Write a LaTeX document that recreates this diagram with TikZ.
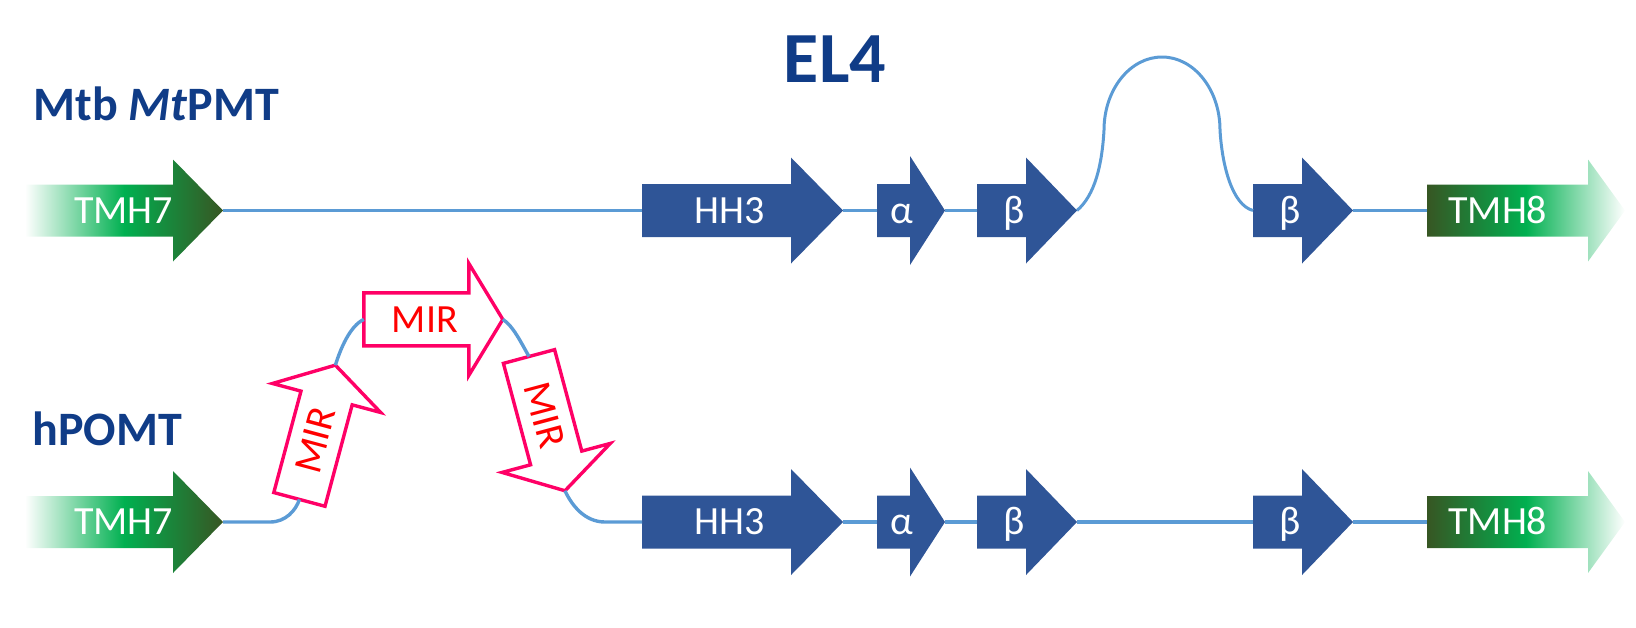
\documentclass[tikz,border=0pt]{standalone}
\usepackage{fontspec}
\setmainfont{Carlito}
\definecolor{titleblue}{RGB}{16,60,135}
\definecolor{arrowblue}{RGB}{47,85,151}
\definecolor{lineblue}{RGB}{91,155,213}
\definecolor{tdark}{RGB}{55,86,35}
\definecolor{tgreen}{RGB}{0,176,80}
\definecolor{mirpink}{RGB}{255,0,102}
\definecolor{mirred}{RGB}{255,0,0}
\newcommand{\txo}{0}
% #1 path style, #2 name, #3 tail position, #4 rotation, #5 body length,
% #6 head length, #7 body half width, #8 head half width, #9 text
\newcommand{\gene}[9]{%
  \begin{scope}[shift={#3}, rotate=#4, transform shape]
    \path[#1] (0,-#7) -- (#5,-#7) -- (#5,-#8) -- (#5+#6,0) -- (#5,#8) -- (#5,#7) -- (0,#7) -- cycle;
    \coordinate (#2-tail) at (0,0);
    \coordinate (#2-tip) at (#5+#6,0);
    \node[gtext] (#2) at (#5/2+#6/4+\txo,0) {#9};
  \end{scope}}
\begin{document}
\begin{tikzpicture}[x=0.5pt,y=-0.5pt,
  bluearrow/.style={fill=arrowblue},
  tmhin/.style={left color=white, right color=tdark, middle color=tgreen},
  tmhout/.style={left color=tdark, right color=white, middle color=tgreen},
  mirarrow/.style={draw=mirpink, fill=white, line width=1.7pt, line join=miter},
  gtext/.style={text=white, font=\fontsize{20}{24}\selectfont, inner sep=0pt, text height=12.9pt, text depth=0pt, anchor=center},
  conn/.style={draw=lineblue, line width=1.7pt},
  titletext/.style={text=titleblue, font=\bfseries\fontsize{36}{40}\selectfont, inner sep=0pt},
  rowlabel/.style={text=titleblue, font=\bfseries\fontsize{24}{28}\selectfont, inner sep=0pt}]
\useasboundingbox (0,0) rectangle (1636,627);

% titles
\node[titletext, anchor=base] (el4) at (835,82.3) {EL4};
\node[rowlabel, anchor=base west] (mtb) at (33,120) {Mtb \textit{Mt}PMT};
\node[rowlabel, anchor=base west] (hpomt) at (32,445) {hPOMT};

% top row
\renewcommand{\txo}{12}
\gene{tmhin}{tmh7t}{(25,210.5)}{0}{148}{50}{26}{51}{TMH7}
\renewcommand{\txo}{0}
\gene{bluearrow}{hh3t}{(642,210.5)}{0}{149}{52}{26.5}{53}{HH3}
\gene{bluearrow}{alphat}{(877,210.5)}{0}{33}{35}{26.5}{54.5}{α}
\gene{bluearrow}{betaat}{(977,210.5)}{0}{49}{51}{26.5}{53}{β}
\gene{bluearrow}{betabt}{(1253,210.5)}{0}{49}{51}{26.5}{53}{β}
\renewcommand{\txo}{-19}
\gene{tmhout}{tmh8t}{(1427,210.5)}{0}{161}{37}{26}{51}{TMH8}

% bottom row
\renewcommand{\txo}{12}
\gene{tmhin}{tmh7b}{(25,522)}{0}{148}{50}{26}{51}{TMH7}
\renewcommand{\txo}{0}
\gene{bluearrow}{hh3b}{(642,522)}{0}{149}{52}{26.5}{53}{HH3}
\gene{bluearrow}{alphab}{(877,522)}{0}{33}{35}{26.5}{54.5}{α}
\gene{bluearrow}{betaab}{(977,522)}{0}{49}{51}{26.5}{53}{β}
\gene{bluearrow}{betabb}{(1253,522)}{0}{49}{51}{26.5}{53}{β}
\renewcommand{\txo}{-19}
\gene{tmhout}{tmh8b}{(1427,522)}{0}{161}{37}{26}{51}{TMH8}
\renewcommand{\txo}{0}

% MIR insertions
\gene{mirarrow}{mira}{(299.4,499.4)}{75}{105}{34}{26.5}{56}{\textcolor{mirred}{MIR}}
\gene{mirarrow}{mirb}{(363.8,319.4)}{0}{105}{34}{26.5}{56}{\textcolor{mirred}{MIR}}
\gene{mirarrow}{mirc}{(529,356.5)}{-75}{105}{34}{26.5}{56}{\textcolor{mirred}{MIR}}

% top connectors
\draw[conn] (tmh7t-tip) -- (hh3t-tail);
\draw[conn] (hh3t-tip) -- (alphat-tail);
\draw[conn] (alphat-tip) -- (betaat-tail);
\draw[conn, line width=1.5pt] (betaat-tip) .. controls (1095,195) and (1102,165) .. (1104,130)
  .. controls (1104,89.7) and (1130,57) .. (1162,57)
  .. controls (1194,57) and (1220,89.7) .. (1220,130)
  .. controls (1222,165) and (1232,205) .. (betabt-tail);
\draw[conn] (betabt-tip) -- (tmh8t-tail);

% bottom connectors
\draw[conn] (tmh7b-tip) -- ++(47,0) .. controls +(16,0) and +(-3.4,10.6) .. (mira-tail);
\draw[conn] (mira-tip) .. controls +(5,-16) and +(-14,6.6) .. (mirb-tail);
\draw[conn] (mirb-tip) .. controls +(10,6) and +(-8,-14) .. (mirc-tail);
\draw[conn] (mirc-tip) .. controls +(7,15) and +(-20,0) .. (605,522) -- (hh3b-tail);
\draw[conn] (hh3b-tip) -- (alphab-tail);
\draw[conn] (alphab-tip) -- (betaab-tail);
\draw[conn] (betaab-tip) -- (betabb-tail);
\draw[conn] (betabb-tip) -- (tmh8b-tail);
\end{tikzpicture}
\end{document}
